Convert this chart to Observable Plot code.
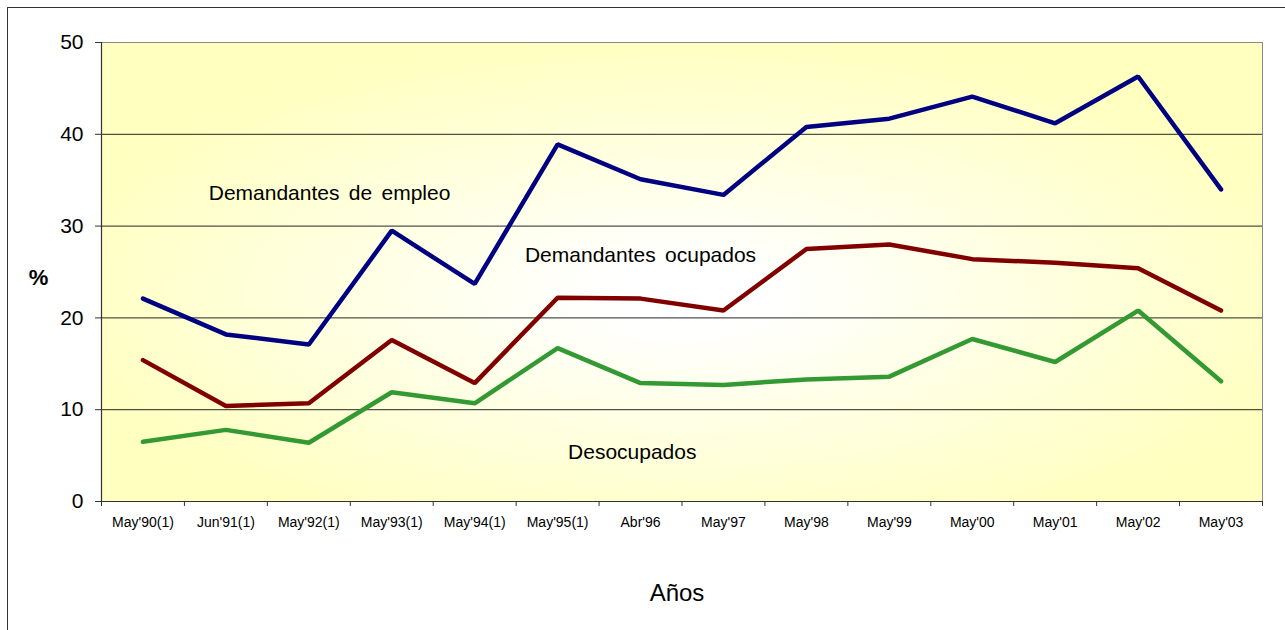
<!DOCTYPE html>
<html><head><meta charset="utf-8">
<script src="https://cdn.jsdelivr.net/npm/d3@7"></script>
<script src="https://cdn.jsdelivr.net/npm/@observablehq/plot@0.6"></script>
<style>
body{margin:0;background:#fff;}
#wrap{position:relative;width:1285px;height:630px;overflow:hidden;font-family:"Liberation Sans",Arial,sans-serif;}
#border{position:absolute;left:7px;top:7px;width:1400px;height:800px;border:1.5px solid #333;box-sizing:border-box;}
#chart{position:absolute;left:0;top:0;}
g[aria-label="text"] text{word-spacing:3.5px;}
</style></head><body>
<div id="wrap"><div id="border"></div><div id="chart"></div></div>
<script>
const categories = ["May'90(1)","Jun'91(1)","May'92(1)","May'93(1)","May'94(1)","May'95(1)","Abr'96","May'97","May'98","May'99","May'00","May'01","May'02","May'03"];
const demandantesEmpleo = [22.1, 18.2, 17.1, 29.5, 23.7, 38.9, 35.1, 33.4, 40.8, 41.7, 44.1, 41.2, 46.3, 34.0];
const demandantesOcupados = [15.4, 10.4, 10.7, 17.6, 12.9, 22.2, 22.1, 20.8, 27.5, 28.0, 26.4, 26.0, 25.4, 20.8];
const desocupados = [6.5, 7.8, 6.4, 11.9, 10.7, 16.7, 12.9, 12.7, 13.3, 13.6, 17.7, 15.2, 20.8, 13.1];
const yTicks = [0, 10, 20, 30, 40, 50];
const seriesNames = ["Demandantes de empleo", "Demandantes ocupados", "Desocupados"];
const seriesLabelX = [2.25, 6.0, 5.9];
const seriesLabelY = [33.6, 26.8, 5.4];

const seriesValues = [demandantesEmpleo, demandantesOcupados, desocupados];
const seriesColors = ["#000080", "#800000", "#339933"];
const idx = d3.range(categories.length);
const boundaries = d3.range(categories.length + 1).map(i => i - 0.5);
const labels = seriesNames.map((t, k) => ({text: t, x: seriesLabelX[k], y: seriesLabelY[k]}));
const font = '"Liberation Sans", Arial, sans-serif';

const plot = Plot.plot({
  width: 1285, height: 630,
  marginLeft: 101, marginRight: 23, marginTop: 42, marginBottom: 129,
  style: {fontFamily: font, background: "transparent", color: "#000", overflow: "visible"},
  x: {domain: [-0.5, categories.length - 0.5], axis: null},
  y: {domain: [0, 50], axis: null},
  marks: [
    Plot.frame({fill: "url(#bgGrad)", stroke: "#8a8a8a"}),
    Plot.gridY([10, 20, 30, 40], {stroke: "#000", strokeOpacity: 0.85, strokeWidth: 1}),
    Plot.ruleX([-0.5], {stroke: "#333", strokeWidth: 1.2}),
    Plot.ruleY([0], {stroke: "#333", strokeWidth: 1.2}),
    Plot.axisY(yTicks, {tickSize: 6, tickPadding: 12, fontSize: 21, label: null, stroke: "#333"}),
    Plot.axisX(boundaries, {tickSize: 5, tickFormat: () => "", label: null, stroke: "#333"}),
    Plot.axisX(idx, {tickSize: 0, tickPadding: 16, tickFormat: i => categories[i], fontSize: 14, label: null}),
    ...seriesValues.map((vals, k) => Plot.line(vals, {
      x: (d, i) => i, y: d => d, stroke: seriesColors[k], strokeWidth: 4.5,
      strokeLinejoin: "miter", strokeLinecap: "round"
    })),
    Plot.text(labels, {x: "x", y: "y", text: "text", fontSize: 21, fill: "#000", lineAnchor: "middle"}),
    Plot.text(["%"], {frameAnchor: "left", textAnchor: "middle", dx: -63, dy: 5.5, fontSize: 22, fontWeight: "bold", fill: "#000", lineAnchor: "middle"}),
    Plot.text(["Años"], {frameAnchor: "bottom", dx: -5, dy: 92, fontSize: 24, fill: "#000", lineAnchor: "middle"})
  ]
});

d3.select(plot).insert("defs", ":first-child").html(
  '<radialGradient id="bgGrad" cx="0.5" cy="0.55" r="0.56">' +
  '<stop offset="0" stop-color="#ffffff"/>' +
  '<stop offset="0.12" stop-color="#ffffff"/>' +
  '<stop offset="1" stop-color="#ffffc0"/>' +
  '</radialGradient>'
);
document.getElementById("chart").appendChild(plot);
</script>
</body></html>
